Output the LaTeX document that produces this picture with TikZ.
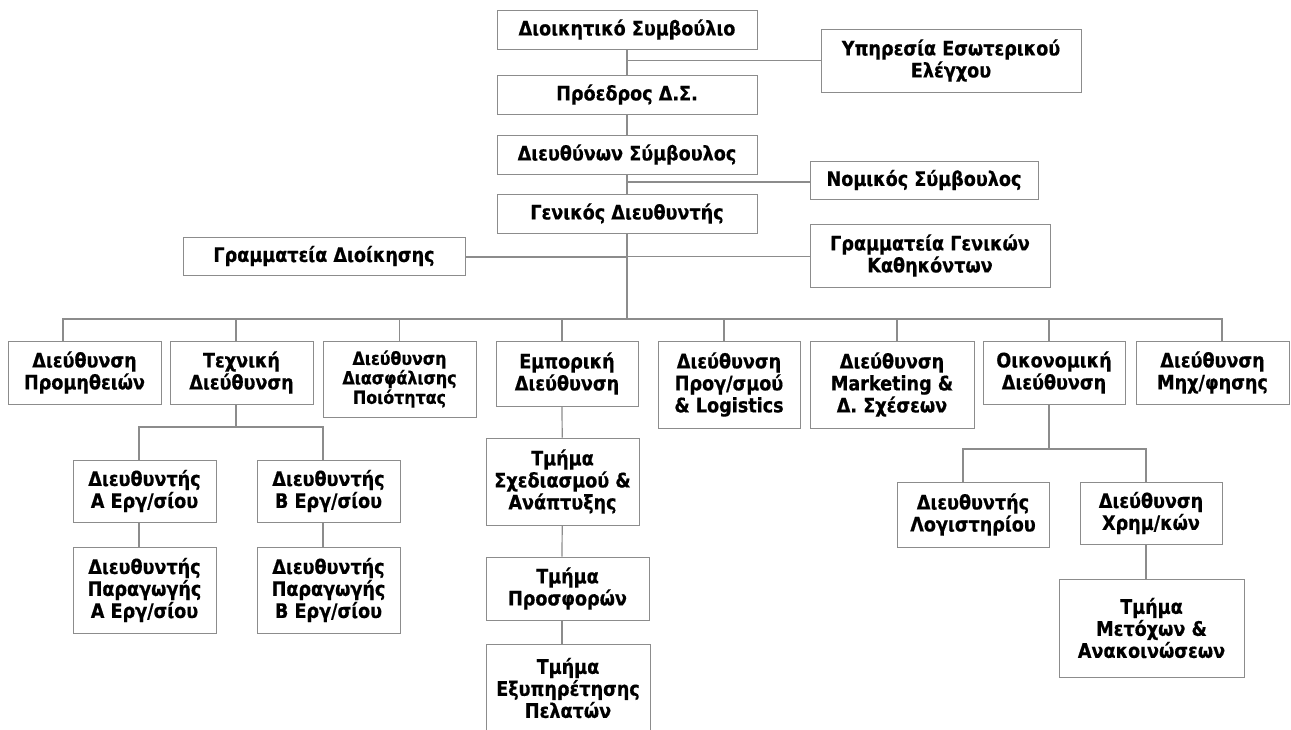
\documentclass[tikz,border=0pt]{standalone}
\usepackage{fontspec}
\setmainfont{DejaVu Sans}[FakeStretch=0.88, BoldFeatures={FakeBold=0.6}]
\usepackage{tikz}
\tikzset{
	box/.style={draw=black!45, line width=1pt, inner sep=0pt, align=center, font=\bfseries\fontsize{20}{22}\selectfont},
	conn/.style={draw=black!45, line width=1.2pt}
}

\begin{document}
\begin{tikzpicture}[x=1pt, y=-1pt]
			%%%%% START %%%%%
			\useasboundingbox (0, 0) rectangle (1291, 729);
			\clip (0, 0) rectangle (1291, 729);
			
			\node[box, minimum width=260, minimum height=39] (dsb) at (627, 29.5) {Διοικητικό Συμβούλιο};
			\node[box, minimum width=260, minimum height=63] (ypes) at (951, 60.5) {Υπηρεσία Εσωτερικού\\Ελέγχου};
			\node[box, minimum width=260, minimum height=39] (pro) at (627, 94.5) {Πρόεδρος Δ.Σ.};
			\node[box, minimum width=260, minimum height=39] (dsy) at (627, 154.5) {Διευθύνων Σύμβουλος};
			\node[box, minimum width=228, minimum height=38] (nom) at (924, 180) {Νομικός Σύμβουλος};
			\node[box, minimum width=260, minimum height=39] (gd) at (627, 213.5) {Γενικός Διευθυντής};
			\node[box, minimum width=282, minimum height=38] (gdi) at (324, 256) {Γραμματεία Διοίκησης};
			\node[box, minimum width=240, minimum height=63] (ggk) at (930, 255.5) {Γραμματεία Γενικών\\Καθηκόντων};
			\coordinate (bus) at (627, 319);
			
			\draw[conn] (dsb) -- (pro);
			\draw[conn] (pro) -- (dsy);
			\draw[conn] (dsy) -- (gd);
			\draw[conn] (gd) -- (bus);
			\draw[conn] (ypes.west) -- (ypes.west -| dsb.south);
			\draw[conn] ([yshift=-2]nom.west) -- ([yshift=-2]nom.west -| dsy.south);
			\draw[conn] ([yshift=-1]gdi.east) -- ([yshift=-1]gdi.east -| gd.south);
			\draw[conn] ([yshift=-1]ggk.west) -- ([yshift=-1]ggk.west -| gd.south);
			
			% directions
			\node[box, minimum width=153, minimum height=63] (dp) at (84.5, 372.5) {Διεύθυνση\\Προμηθειών};
			\node[box, minimum width=143, minimum height=63] (tech) at (241.5, 372.5) {Τεχνική\\Διεύθυνση};
			\node[box, minimum width=153, minimum height=76, font=\bfseries\fontsize{18}{19.5}\selectfont] (dq) at (399.5, 379) {Διεύθυνση\\Διασφάλισης\\Ποιότητας};
			\node[box, minimum width=142, minimum height=65] (emp) at (567, 373.5) {Εμπορική\\Διεύθυνση};
			\node[box, minimum width=142, minimum height=87] (prog) at (729, 384.5) {Διεύθυνση\\Προγ/σμού\\\& Logistics};
			\node[box, minimum width=164, minimum height=87] (mkt) at (892, 384.5) {Διεύθυνση\\Marketing \&\\Δ. Σχέσεων};
			\node[box, minimum width=142, minimum height=63] (oik) at (1054, 372.5) {Οικονομική\\Διεύθυνση};
			\node[box, minimum width=153, minimum height=63] (mix) at (1212.5, 372.5) {Διεύθυνση\\Μηχ/φησης};
			
			\foreach \n/\s in {dp/-21.5, tech/-5.5, dq/0, emp/-5, prog/-5, mkt/5, oik/-5, mix/9.5}
				\draw[conn] ([xshift=\s]\n.north) |- (bus);
			
			% technical
			\node[box, minimum width=143, minimum height=62] (da) at (144.5, 491) {Διευθυντής\\Α Εργ/σίου};
			\node[box, minimum width=143, minimum height=62] (db) at (328.5, 491) {Διευθυντής\\Β Εργ/σίου};
			\node[box, minimum width=143, minimum height=86] (pa) at (144.5, 590) {Διευθυντής\\Παραγωγής\\Α Εργ/σίου};
			\node[box, minimum width=143, minimum height=86] (pb) at (328.5, 590) {Διευθυντής\\Παραγωγής\\Β Εργ/σίου};
			\coordinate (tbus) at (236, 427);
			
			\draw[conn] ([xshift=-5.5]tech.south) -- (tbus);
			\draw[conn] ([xshift=-5.5]da.north) |- (tbus);
			\draw[conn] ([xshift=-5.5]db.north) |- (tbus);
			\draw[conn] ([xshift=-5.5]da.south) -- ([xshift=-5.5]pa.north);
			\draw[conn] ([xshift=-5.5]db.south) -- ([xshift=-5.5]pb.north);
			
			% commercial
			\node[box, minimum width=153, minimum height=87] (tsa) at (562.5, 481.5) {Τμήμα\\Σχεδιασμού \&\\Ανάπτυξης};
			\node[box, minimum width=163, minimum height=63] (tpr) at (567.5, 588.5) {Τμήμα\\Προσφορών};
			\node[box, minimum width=164, minimum height=88] (tex) at (568, 688) {Τμήμα\\Εξυπηρέτησης\\Πελατών};
			
			\draw[conn] ([xshift=-5]emp.south) -- (tsa);
			\draw[conn] (tsa) -- ([xshift=-5.5]tpr.north);
			\draw[conn] ([xshift=-5.5]tpr.south) -- ([xshift=-6]tex.north);
			
			% finance
			\node[box, minimum width=152, minimum height=65] (dl) at (973, 514.5) {Διευθυντής\\Λογιστηρίου};
			\node[box, minimum width=142, minimum height=62] (dx) at (1151, 513) {Διεύθυνση\\Χρημ/κών};
			\node[box, minimum width=185, minimum height=98] (tm) at (1151.5, 628) {Τμήμα\\Μετόχων \&\\Ανακοινώσεων};
			\coordinate (fbus) at (1049, 449);
			
			\draw[conn] ([xshift=-5]oik.south) -- (fbus);
			\draw[conn] ([xshift=-10]dl.north) |- (fbus);
			\draw[conn] ([xshift=-5]dx.north) |- (fbus);
			\draw[conn] ([xshift=-5]dx.south) -- ([xshift=-5.5]tm.north);
			
			%%%%% END %%%%%
\end{tikzpicture}
\end{document}
